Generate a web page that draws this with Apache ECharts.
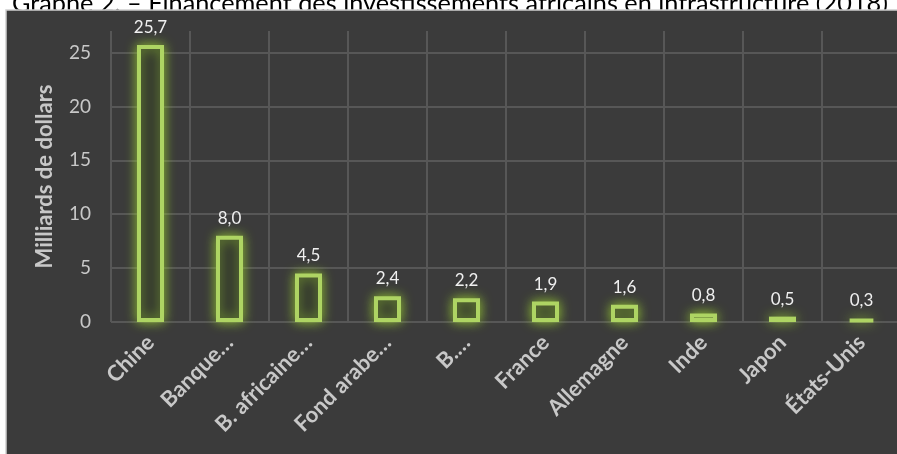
<!DOCTYPE html>
<html>
<head>
<meta charset="utf-8">
<script src="https://cdn.jsdelivr.net/npm/echarts@6/dist/echarts.min.js"></script>
<style>
html,body{margin:0;padding:0;background:#ffffff;}
#chart{width:897px;height:454px;}
</style>
</head>
<body>
<div id="chart"></div>
<script>
const titleText = 'Graphe 2. – Financement des investissements africains en infrastructure (2018)';
const yAxisName = 'Milliards de dollars';
const categories = ['Chine', 'Banque…', 'B. africaine…', 'Fond arabe…', 'B.…', 'France', 'Allemagne', 'Inde', 'Japon', 'États-Unis'];
const values = [25.7, 8.0, 4.5, 2.4, 2.2, 1.9, 1.6, 0.8, 0.5, 0.3];
const yTicks = [0, 5, 10, 15, 20, 25];

const chart = echarts.init(document.getElementById('chart'));
const option = {
  backgroundColor: '#ffffff',
  animation: false,
  graphic: {
    elements: [{
      type: 'text',
      z: 0,
      x: 888,
      y: 16,
      style: {
        text: titleText,
        fill: '#000000',
        fontFamily: 'Lato',
        fontSize: 25.3,
        verticalAlign: 'bottom',
        align: 'right'
      }
    }, {
      type: 'rect',
      z: 1,
      shape: { x: 6, y: 10, width: 895, height: 448 },
      style: { fill: '#3b3b3b', stroke: '#cfcfcf', lineWidth: 1.5 }
    }]
  },
  grid: { left: 111, right: -4, top: 31, bottom: 132, outerBoundsMode: 'none' },
  xAxis: {
    type: 'category',
    data: categories,
    z: 5,
    axisLine: { show: false },
    axisTick: { show: false },
    splitLine: { show: true, lineStyle: { color: '#575757', width: 2 } },
    axisLabel: {
      rotate: 45,
      margin: 17,
      interval: 0,
      color: '#c8c8c8',
      fontFamily: 'Lato',
      fontWeight: 'bold',
      fontSize: 22
    }
  },
  yAxis: {
    type: 'value',
    min: 0,
    max: 27,
    interval: 5,
    z: 5,
    name: yAxisName,
    nameLocation: 'middle',
    nameGap: 55,
    nameMoveOverlap: false,
    nameTextStyle: { color: '#c8c8c8', fontFamily: 'Lato', fontWeight: 'bold', fontSize: 22 },
    axisLine: { show: false },
    axisTick: { show: false },
    splitLine: { show: true, showMaxLine: false, lineStyle: { color: '#575757', width: 2 } },
    axisLabel: {
      margin: 20,
      showMaxLabel: false,
      color: '#c8c8c8',
      fontFamily: 'Lato',
      fontSize: 19,
      formatter: function (v) { return yTicks.indexOf(v) >= 0 ? String(v) : ''; }
    }
  },
  series: [{
    type: 'bar',
    data: values,
    z: 5,
    barWidth: 27,
    itemStyle: {
      color: '#33372f',
      borderColor: '#aed463',
      borderWidth: 4,
      shadowColor: 'rgba(150, 200, 50, 0.9)',
      shadowBlur: 12
    },
    label: {
      show: true,
      position: 'top',
      distance: 9,
      color: '#f0f0f0',
      fontFamily: 'Lato',
      fontSize: 17,
      formatter: function (p) { return p.value.toFixed(1).replace('.', ','); }
    }
  }]
};
chart.setOption(option);
</script>
</body>
</html>
